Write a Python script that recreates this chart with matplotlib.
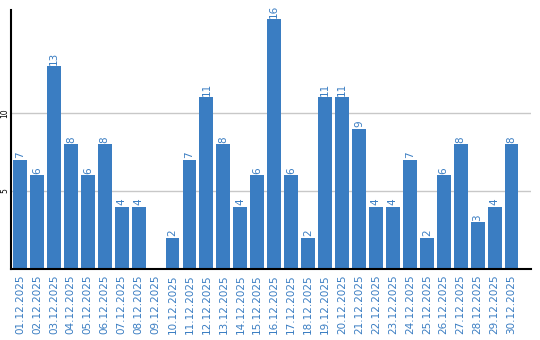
import matplotlib
matplotlib.use("Agg")
import matplotlib.pyplot as plt

days = ["%02d.12.2025" % d for d in range(1, 31)]
counts = [7, 6, 13, 8, 6, 8, 4, 4, 0, 2, 7, 11, 8, 4, 6, 16, 6, 2, 11, 11,
          9, 4, 4, 7, 2, 6, 8, 3, 4, 8]
y_ticks = [5, 10]

bar_color = "#3a7dc2"

fig = plt.figure(figsize=(5.4, 3.4), dpi=100)
ax = fig.add_axes([11 / 540, 71 / 340, 520 / 540, 259 / 340])

x = list(range(len(days)))
ax.bar(x, counts, width=0.82, color=bar_color, zorder=2)

# value labels above bars (skip zero)
for xi, v in zip(x, counts):
    if v > 0:
        ax.text(xi, v + 0.1, str(v), rotation=90, ha="center", va="bottom",
                color=bar_color, fontsize=7.5)

ax.set_xlim(-0.53, 30.15)
ax.set_ylim(0, 16.6)
ax.set_yticks(y_ticks)
ax.set_yticklabels([str(t) for t in y_ticks], rotation=90, va="center", fontsize=5.5)
ax.yaxis.grid(True, color="#c8c8c8", linewidth=1, zorder=0)
ax.set_axisbelow(True)

ax.set_xticks(x)
ax.set_xticklabels(days, rotation=90, color=bar_color, fontsize=7.5)
ax.tick_params(axis="x", length=0, pad=4)
ax.tick_params(axis="y", length=0, pad=1)

for side in ["top", "right"]:
    ax.spines[side].set_visible(False)
ax.spines["left"].set_linewidth(1.5)
ax.spines["bottom"].set_linewidth(1.5)

plt.savefig("out.png", dpi=100)
